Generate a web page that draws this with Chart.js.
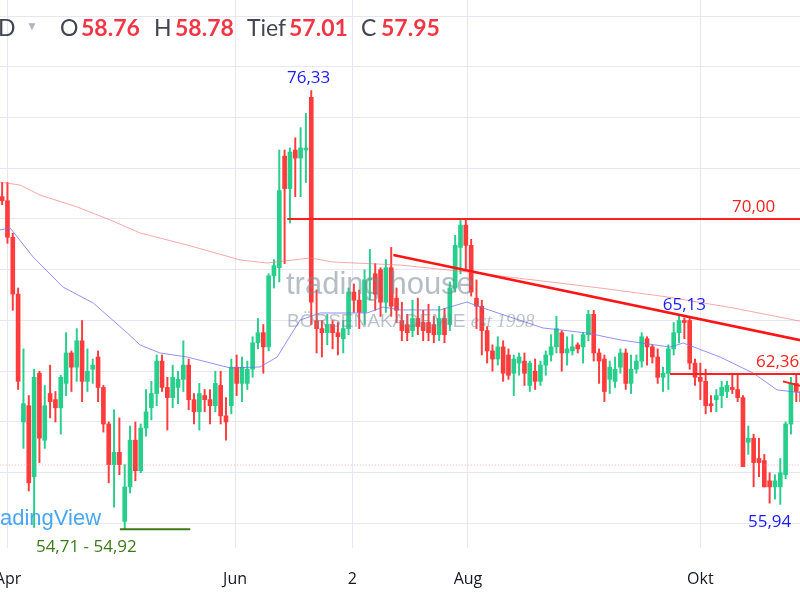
<!DOCTYPE html>
<html><head><meta charset="utf-8">
<script src="https://cdn.jsdelivr.net/npm/chart.js@4/dist/chart.umd.min.js"></script>
<style>
body{margin:0;background:#fff;font-family:Lato,sans-serif;}
#wrap{position:relative;width:800px;height:600px;}
.ov{position:absolute;white-space:nowrap;pointer-events:none;}
.h{position:absolute;top:13px;font-family:Lato;font-size:23px;color:#434651;white-space:nowrap}
.n{color:#f23645;font-weight:bold}
</style></head><body>
<div id="wrap"><canvas id="c" width="800" height="600"></canvas>
<div class="h" style="left:-2px">D</div><div class="h" style="left:26px;top:18px;font-size:12px;color:#b2b5be">&#9660;</div>
<div class="h" style="left:60px">O</div><div class="h n" style="left:81px">58.76</div>
<div class="h" style="left:154px">H</div><div class="h n" style="left:175px">58.78</div>
<div class="h" style="left:247px">Tief</div><div class="h n" style="left:289px">57.01</div>
<div class="h" style="left:361px">C</div><div class="h n" style="left:381px">57.95</div>
<div class="ov" style="left:286px;top:266px;font-size:31px;color:rgba(120,134,150,0.55);font-family:'Liberation Sans'">trading house</div>
<div class="ov" style="left:287px;top:310px;font-size:19px;color:rgba(120,134,150,0.5);font-family:'Liberation Sans'">BÖRSENAKADEMIE <i style="font-family:'Liberation Serif'">est 1998</i></div>
<div class="ov" style="left:-20px;top:505px;font-size:22px;color:rgba(41,150,240,0.85);font-family:'Liberation Sans'">TradingView</div>
</div>
<script>
const openP=[71.1,70.9,69.1,66.3,60.0,60.8,57.3,62.4,59.1,61.4,61.1,60.7,61.9,63.4,62.7,64.0,62.0,62.6,63.2,61.7,59.9,57.9,58.5,55.1,56.8,59.1,57.6,59.7,60.7,61.4,63.0,61.7,61.2,61.7,62.1,62.8,61.1,
60.5,61.3,61.1,60.8,61.8,60.3,60.8,62.7,61.9,61.9,62.6,63.9,64.4,63.7,67.2,67.6,73.1,71.5,73.4,73.0,73.4,76.0,65.0,64.6,64.4,64.8,64.4,64.1,64.6,66.4,66.0,65.4,67.0,67.3,67.5,65.9,67.6,66.1,
65.0,64.8,64.5,65.1,64.9,64.9,64.8,64.3,65.1,64.8,66.6,68.6,69.7,68.7,66.1,65.7,64.5,63.5,63.1,63.7,63.3,62.4,62.9,63.0,61.8,62.5,62.0,62.8,63.3,63.7,64.4,63.4,63.5,63.8,63.7,64.3,65.3,63.4,
63.1,62.1,62.0,62.7,63.4,61.9,62.6,63.0,64.1,63.7,63.2,62.2,62.4,63.6,64.4,65.0,65.0,62.9,62.2,62.0,60.9,61.1,61.3,61.5,61.7,61.6,61.2,59.0,59.2,58.2,58.1,57.1,56.8,56.8,57.4,59.9,61.9,61.5,61.1];
const closeP=[70.9,69.1,66.3,62.0,60.9,57.0,62.2,59.2,60.8,61.0,60.7,62.2,63.4,62.7,64.0,62.0,62.5,62.8,61.7,59.9,57.9,58.5,57.9,56.8,59.1,57.6,59.7,60.5,61.4,63.0,61.7,61.2,62.2,62.1,62.8,61.1,60.5,
61.4,61.1,60.8,61.9,60.3,60.0,62.7,61.9,62.7,62.6,63.9,64.4,63.7,67.2,67.7,71.4,71.5,73.3,73.0,73.5,73.5,65.9,64.6,64.4,64.8,64.4,64.2,64.6,66.4,66.0,65.4,67.0,67.0,66.3,65.9,67.6,65.7,65.5,
64.5,64.4,65.1,64.7,64.5,64.4,64.3,65.1,64.3,66.6,68.7,69.7,68.7,66.4,65.7,64.5,63.5,63.1,63.7,62.4,62.3,63.1,63.2,62.4,62.9,62.0,62.8,63.3,63.7,64.6,63.4,63.6,63.7,63.6,64.3,65.3,63.4,63.0,
61.5,62.7,62.6,63.4,61.9,62.6,63.0,64.2,63.7,63.2,62.2,62.4,63.6,64.4,65.0,64.9,62.9,62.2,62.0,60.8,60.8,61.3,61.7,61.8,61.6,61.2,57.8,59.2,58.0,58.0,56.8,56.8,57.1,57.5,59.9,61.9,61.5,61.0,60.1];
const highP=[71.8,71.8,69.3,66.6,63.6,61.3,62.6,62.5,61.8,62.8,61.5,62.3,64.4,63.5,64.6,65.0,63.6,63.1,63.5,61.8,60.0,60.6,60.2,57.9,59.8,60.0,59.9,61.6,62.0,63.3,63.3,62.2,62.8,62.5,64.0,63.1,61.4,
61.9,61.6,61.6,62.5,62.5,61.2,63.1,63.3,63.2,63.0,64.2,65.1,64.8,67.3,68.0,73.4,73.4,73.5,74.0,74.5,75.2,76.33,66.5,65.0,65.3,65.0,64.9,65.0,66.6,66.8,66.5,67.5,68.5,67.8,67.6,68.0,68.6,66.6,
65.9,65.3,66.0,66.1,65.5,65.8,65.2,65.7,65.6,66.9,69.2,70.0,70.0,69.0,67.0,66.0,64.7,63.8,64.2,64.0,63.6,63.3,63.4,63.4,63.0,63.1,63.0,63.5,64.3,65.2,64.5,64.2,64.3,63.9,64.4,65.5,65.5,63.6,
63.3,63.0,63.2,63.6,63.6,63.3,63.3,64.4,64.2,63.8,63.6,62.7,63.8,64.9,65.3,65.13,65.2,63.1,62.9,62.6,61.3,61.6,62.0,62.0,62.4,62.4,61.3,59.8,59.4,59.2,58.4,57.5,57.4,58.2,60.0,62.2,62.3,62.0,61.5];
const lowP=[70.7,68.8,65.5,61.6,58.7,56.6,54.8,58.0,58.7,60.2,60.0,59.4,61.3,61.5,62.0,61.0,61.5,61.9,61.0,59.5,57.0,55.8,57.4,54.71,56.5,57.1,57.5,59.3,60.1,60.8,61.5,59.6,60.7,60.9,61.5,60.6,59.9,
59.6,60.5,59.9,60.5,59.9,59.1,60.4,61.3,61.0,61.6,62.2,63.6,62.4,63.5,66.6,66.9,67.8,69.8,71.1,71.1,71.8,64.8,63.4,63.2,63.8,63.6,63.3,63.4,64.3,65.4,64.6,64.8,66.0,65.5,65.2,65.4,65.2,64.9,
64.0,64.0,64.2,64.3,64.0,64.0,63.9,64.0,63.9,64.5,66.4,67.3,67.5,66.2,64.6,63.3,62.9,62.5,62.8,62.0,62.1,61.3,62.3,61.8,61.5,61.6,61.8,62.3,63.0,63.4,62.5,62.8,63.3,63.4,62.9,64.0,63.0,61.9,
61.0,61.4,61.7,62.4,61.6,61.4,62.4,62.7,62.8,62.9,61.9,61.5,61.6,63.3,63.9,64.1,62.6,61.8,61.1,60.4,60.5,60.5,60.7,61.2,61.4,61.0,57.8,58.4,56.8,57.3,56.8,56.0,56.2,55.94,57.2,59.4,61.0,60.5,59.5];
const ma50X=[-0.4,1.5,5.8,11.4,17.1,23.5,25.9,29.6,34.7,42.8,48.4,51.6,55.9,59.7,68.5,71.5,74.7,82.2,87.2,89.7,95.3,101.5,109.8,116,125.3,127.8,134.7,140.9,145.4,151];
const ma50Y=[69.46,69.56,68.13,66.65,65.86,64.38,63.79,63.40,63.20,62.66,62.71,63.20,65.02,65.37,65.37,65.66,65.52,65.52,65.91,65.66,65.17,64.63,64.38,64.04,63.69,63.89,63.20,62.41,61.58,61.4];
const ma200X=[-0.4,3.4,7.1,14.1,20.3,25.9,34.7,44.7,49.7,57.8,62.1,74.7,87.2,99.6,112.2,124.8,137.1,151];
const ma200Y=[71.82,71.67,71.18,70.59,69.95,69.31,68.72,67.98,67.83,68.08,67.88,67.73,67.39,67.0,66.6,66.16,65.62,64.9];
const tickPos=[1.1,43.7,65.7,87.4,131];
const tickLabels=["Apr","Jun","2","Aug","Okt"];
const levels={resist:70.00,support:62.36,low1:54.71,low2:54.92,high:76.33,mid:65.13,bottom:55.94,last:57.88};

const G='#26cf8b',R='#ff3b3b';
const idx=openP.map((_,i)=>i);
const col=idx.map(i=>closeP[i]>=openP[i]?G:R);
const pts=(xs,ys)=>xs.map((x,i)=>({x,y:ys[i]}));
const seg=(x1,y1,x2,y2,c,w,dash)=>({type:'line',data:[{x:x1,y:y1},{x:x2,y:y2}],borderColor:c,borderWidth:w,borderDash:dash||[],pointRadius:0,order:0});
const datasets=[
 {type:'bar',data:idx.map(i=>({x:i,y:[lowP[i],highP[i]]})),backgroundColor:col,barThickness:1.3,grouped:false,order:3},
 {type:'bar',data:idx.map(i=>({x:i,y:[openP[i],closeP[i]]})),backgroundColor:col,barThickness:4,minBarLength:1,grouped:false,order:2},
 {type:'line',data:pts(ma50X,ma50Y),borderColor:'rgba(110,110,240,0.75)',borderWidth:1,pointRadius:0,order:1},
 {type:'line',data:pts(ma200X,ma200Y),borderColor:'rgba(245,110,110,0.6)',borderWidth:1,pointRadius:0,order:1},
 seg(-1,levels.last,152,levels.last,'rgba(240,120,150,0.6)',1,[1,2]),
 seg(53.5,levels.resist,152,levels.resist,'#ff2020',2),
 seg(73.4,68.23,151,63.96,'#ff1515',2.5),
 seg(125.3,levels.support,152,levels.support,'#ff2020',2),
 seg(146.5,62.0,151,61.7,'#ff2020',2),
 seg(22.1,levels.low1,35.3,levels.low1,'#3d7a1a',2)
];
const labels={id:'labels',afterDatasetsDraw(ch){const c=ch.ctx,x=ch.scales.x,y=ch.scales.y;
 c.save();c.font='17px "Open Sans"';c.textAlign='center';c.textBaseline='bottom';
 const t=(s,xi,yv,color,dy)=>{c.fillStyle=color;c.fillText(s,x.getPixelForValue(xi),y.getPixelForValue(yv)+dy);};
 t('76,33',57.5,levels.high,'#1a1aff',-4);
 t('65,13',128,levels.mid,'#1a1aff',-4);
 t('55,94',144,levels.bottom,'#1a1aff',26);
 t('70,00',141,levels.resist,'#ff2020',-3);
 t('62,36',145.5,levels.support,'#ff2020',-3);
 t('54,71 - 54,92',15.8,levels.low1,'#3d7a1a',26);
 c.restore();}};
new Chart(document.getElementById('c'),{data:{datasets},plugins:[labels],
 options:{responsive:false,animation:false,layout:{padding:0},
  plugins:{legend:{display:false},tooltip:{enabled:false}},
  scales:{
   x:{type:'linear',min:-0.4,max:149.7,offset:false,
     afterBuildTicks:s=>{s.ticks=tickPos.map(v=>({value:v}));},
     ticks:{callback:(v,i)=>tickLabels[i],autoSkip:false,maxRotation:0,color:'#131722',font:{size:16,family:'Open Sans'},padding:22},
     grid:{color:'#e8e6f5',drawTicks:false,offset:false},border:{display:false},
     afterFit:s=>{s.height=52;s.paddingLeft=0;s.paddingRight=0;}},
   y:{type:'linear',min:53.79,max:80.79,position:'right',
     afterBuildTicks:s=>{const a=[];for(let v=55;v<=80;v+=2.5)a.push({value:v});s.ticks=a;},
     ticks:{display:false},grid:{color:'#e8e6f5',drawTicks:false},border:{display:false},afterFit:s=>{s.width=0;}}
  }}});
</script></body></html>
